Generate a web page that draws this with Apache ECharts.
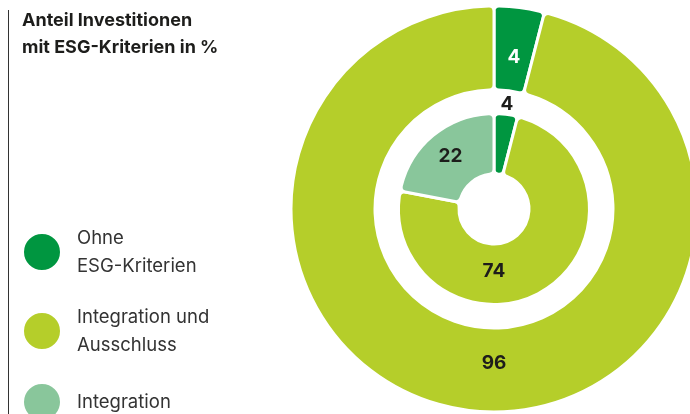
<!DOCTYPE html>
<html>
<head>
<meta charset="utf-8">
<script src="https://cdn.jsdelivr.net/npm/echarts@6/dist/echarts.min.js"></script>
<style>
  html, body { margin: 0; padding: 0; background: #fff; }
  #chart { width: 690px; height: 414px; }
</style>
</head>
<body>
<div id="chart"></div>
<script>
  const categories = ['Ohne ESG-Kriterien', 'Integration und Ausschluss', 'Integration'];
  const legendLabels = ['Ohne\nESG-Kriterien', 'Integration und\nAusschluss', 'Integration'];
  const colors = ['#009640', '#b5ce2a', '#89c69b'];

  // outer ring: all investments, inner ring: breakdown
  const outerValues = [4, 96];
  const innerValues = [4, 74, 22];

  const center = [494, 209];
  const font = 'Inter, "Noto Sans", sans-serif';

  // label spots: [angle clockwise from top in deg, distance from center]
  const outerLabelSpots = [[7.5, 153], [180, 154]];
  const innerLabelSpots = [[7, 106], [180, 62], null];

  const chart = echarts.init(document.getElementById('chart'), null, { renderer: 'canvas' });

  function ringData(values) {
    return values.map((v, i) => ({
      name: categories[i],
      value: v,
      itemStyle: { color: colors[i] },
    }));
  }

  function placeLabel(spots) {
    return (p) => {
      const s = spots[p.dataIndex];
      if (!s) return {};
      const a = s[0] * Math.PI / 180;
      return {
        x: center[0] + s[1] * Math.sin(a),
        y: center[1] - s[1] * Math.cos(a),
        align: 'center',
        verticalAlign: 'middle',
      };
    };
  }

  const labelBase = {
    show: true,
    position: 'inside',
    formatter: '{c}',
    fontFamily: font,
    fontWeight: 'bold',
    fontSize: 19,
    color: '#1d1d1b',
  };

  chart.setOption({
    animation: false,
    backgroundColor: '#fff',
    title: {
      text: 'Anteil Investitionen\nmit ESG-Kriterien in %',
      left: 22,
      top: 7,
      padding: 0,
      textStyle: {
        fontFamily: font,
        fontWeight: 'bold',
        fontSize: 18,
        lineHeight: 27,
        color: '#1d1d1b',
      },
    },
    graphic: [{
      type: 'line',
      shape: { x1: 8.5, y1: 10, x2: 8.5, y2: 414 },
      style: { stroke: '#333', lineWidth: 1 },
    }],
    legend: {
      orient: 'vertical',
      left: 22,
      top: 224,
      height: 190,
      padding: 0,
      icon: 'circle',
      itemWidth: 38,
      itemHeight: 38,
      itemGap: 23,
      selectedMode: false,
      data: categories,
      formatter: (name) => legendLabels[categories.indexOf(name)],
      textStyle: {
        fontFamily: font,
        fontSize: 18.5,
        lineHeight: 28,
        color: '#333',
        padding: [0, 0, 0, 11],
      },
    },
    series: [
      {
        name: 'Gesamt',
        type: 'pie',
        center,
        radius: [119, 203],
        startAngle: 90,
        clockwise: true,
        silent: true,
        itemStyle: { borderColor: '#fff', borderWidth: 3, borderRadius: 5 },
        label: labelBase,
        labelLine: { show: false },
        labelLayout: placeLabel(outerLabelSpots),
        data: ringData(outerValues).map((d, i) => (i === 0 ? { ...d, label: { color: '#fff' } } : d)),
      },
      {
        name: 'Aufteilung',
        type: 'pie',
        center,
        radius: [35, 95.5],
        startAngle: 90,
        clockwise: true,
        silent: true,
        itemStyle: { borderColor: '#fff', borderWidth: 3, borderRadius: 5 },
        label: labelBase,
        labelLine: { show: false },
        labelLayout: placeLabel(innerLabelSpots),
        data: ringData(innerValues),
      },
    ],
  });
</script>
</body>
</html>
